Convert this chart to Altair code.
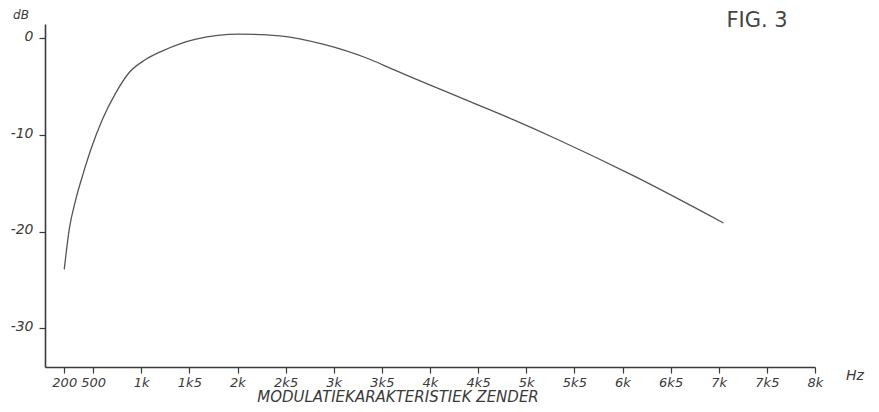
import altair as alt
import pandas as pd

# Curve (frequency in Hz, level in dB)
freq_hz = [200, 251, 320, 389, 477, 597, 737, 875, 1049, 1222, 1569, 2020, 2436,
           2887, 3373, 3615, 4309, 4864, 5315, 6112, 7050]
level_db = [-23.9, -19.8, -16.65, -14.24, -11.47, -8.36, -5.6, -3.52, -2.15, -1.28, -0.07,
            0.45, 0.27, -0.59, -2.15, -3.2, -6.1, -8.4, -10.4, -14.2, -19.1]

x_tick_values = [200, 500, 1000, 1500, 2000, 2500, 3000, 3500, 4000, 4500, 5000,
                 5500, 6000, 6500, 7000, 7500, 8000]
x_tick_labels = ["200", "500", "1k", "1k5", "2k", "2k5", "3k", "3k5", "4k", "4k5", "5k",
                 "5k5", "6k", "6k5", "7k", "7k5", "8k"]
y_tick_values = [0, -10, -20, -30]
y_tick_labels = ["0", "-10", "-20", "-30"]

x_title = "MODULATIEKARAKTERISTIEK  ZENDER"
x_unit = "Hz"
y_unit = "dB"
fig_label = "FIG. 3"

df = pd.DataFrame({"f": freq_hz, "db": level_db})

x_expr = " : ".join(
    f"datum.value == {v} ? '{l}'" for v, l in zip(x_tick_values, x_tick_labels)
) + " : ''"
y_expr = " : ".join(
    f"datum.value == {v} ? '{l}'" for v, l in zip(y_tick_values, y_tick_labels)
) + " : ''"

W, H = 770, 343
ink = "#3a3a3a"
font = "DejaVu Sans"

x_scale = alt.Scale(domain=[0, 8000], nice=False, zero=False)
y_scale = alt.Scale(domain=[-34, 1.5], nice=False, zero=False)

line = alt.Chart(df).mark_line(
    interpolate="monotone", color="#555555", strokeWidth=1.3
).encode(
    x=alt.X("f:Q", scale=x_scale,
            axis=alt.Axis(values=x_tick_values, labelExpr=x_expr, title=None,
                          grid=False, domainColor=ink, domainWidth=1.6,
                          tickColor=ink, tickWidth=1.2, tickSize=6,
                          labelFont=font, labelFontStyle="italic", labelFontSize=13,
                          labelColor=ink, labelPadding=3, labelFlush=False,
                          labelOverlap=False)),
    y=alt.Y("db:Q", scale=y_scale,
            axis=alt.Axis(values=y_tick_values, labelExpr=y_expr, title=None,
                          grid=False, domainColor=ink, domainWidth=1.6,
                          tickColor=ink, tickWidth=1.2, tickSize=6,
                          labelFont=font, labelFontStyle="italic", labelFontSize=14,
                          labelColor=ink, labelPadding=6, labelOffset=-2,
                          labelFlush=False, labelOverlap=False)),
)

def label(text, x, y, size, baseline="middle"):
    return alt.Chart(pd.DataFrame({"t": [text]})).mark_text(
        font=font, fontStyle="italic", fontSize=size, color=ink, align="center",
        baseline=baseline
    ).encode(text="t:N", x=alt.value(x), y=alt.value(y))

title_txt = label(x_title, 353, 373, 15)
hz_txt = label(x_unit, 810, 352, 14)
db_txt = label(y_unit, -24, -5, 12, baseline="alphabetic")
fig_txt = alt.Chart(pd.DataFrame({"t": [fig_label]})).mark_text(
    font=font, fontSize=21, color="#444444", align="center", baseline="alphabetic"
).encode(text="t:N", x=alt.value(712), y=alt.value(3))

chart = alt.layer(line, title_txt, hz_txt, db_txt, fig_txt).properties(
    width=W, height=H,
    background="white",
    autosize=alt.AutoSizeParams(type="none"),
    padding={"left": 37, "top": 16, "right": 56, "bottom": 40},
).configure_view(strokeWidth=0)

chart.save("out.html", embed_options={"renderer": "svg", "actions": False})
